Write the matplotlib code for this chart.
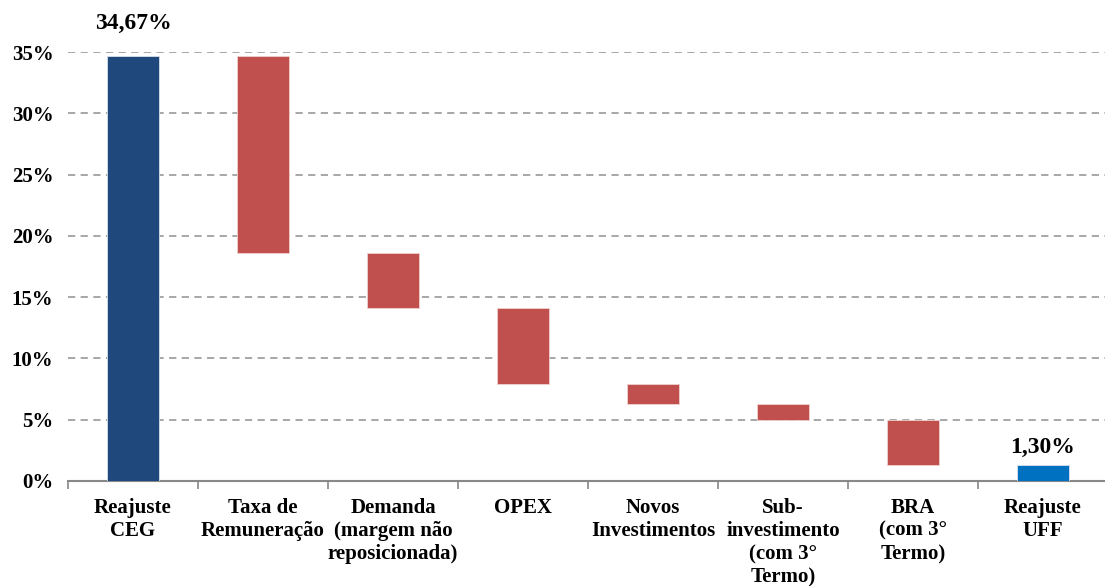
import matplotlib.pyplot as plt

categorias = ['Reajuste\nCEG', 'Taxa de\nRemuneração', 'Demanda\n(margem não\nreposicionada)', 'OPEX',
              'Novos\nInvestimentos', 'Sub-\ninvestimento\n(com 3°\nTermo)', 'BRA\n(com 3°\nTermo)', 'Reajuste\nUFF']
reajuste_ceg = 34.67
variacoes = [-16.05, -4.51, -6.19, -1.65, -1.32, -3.65]
reajuste_uff = 1.30

plt.rcParams['font.family'] = ['Liberation Serif', 'DejaVu Serif']
plt.rcParams['font.weight'] = 'bold'

fig = plt.figure(figsize=(11.05, 5.86), dpi=100)
ax = fig.add_axes([68 / 1105, 1 - 481 / 586, 1040 / 1105, (481 - 52) / 586])

x = list(range(len(categorias)))
largura = 0.4

# barras iniciais e finais
ax.bar(x[0], reajuste_ceg, width=largura, color='#1F497D', edgecolor='#d9e1ec', linewidth=0.6, zorder=3)
ax.bar(x[-1], reajuste_uff, width=largura, color='#0070C0', edgecolor='#d9e1ec', linewidth=0.6, zorder=3)

# barras de variação (cascata)
nivel = reajuste_ceg
for i, d in enumerate(variacoes):
    ax.bar(x[i + 1], d, bottom=nivel, width=largura, color='#C0504D', edgecolor='#f0d0d0', linewidth=0.6, zorder=3)
    nivel += d

ax.text(x[0], reajuste_ceg + 1.8, '34,67%', ha='center', va='bottom', fontsize=17, fontweight='bold', clip_on=False)
ax.text(x[-1], reajuste_uff + 0.6, '1,30%', ha='center', va='bottom', fontsize=17, fontweight='bold')

ax.set_xlim(-0.5, 7.5)
ax.set_ylim(0, 35)
ax.set_yticks(range(0, 36, 5))
ax.set_yticklabels([str(v) + '%' for v in range(0, 36, 5)], fontsize=15, fontweight='bold')
ax.yaxis.grid(True, linestyle=(0, (4, 3)), color='#a0a0a0', linewidth=1.3, zorder=0)

ax.set_xticks([i - 0.5 for i in range(len(categorias) + 1)])
ax.set_xticklabels([])
ax.set_xticks(x, minor=True)
ax.set_xticklabels(categorias, minor=True, fontsize=15, fontweight='bold', linespacing=1.22, va='top')
ax.tick_params(axis='x', which='major', length=6, color='#888888', width=1.2)
ax.tick_params(axis='x', which='minor', length=0, pad=12)
ax.tick_params(axis='y', length=0, pad=10.5)

for s in ['top', 'right', 'left']:
    ax.spines[s].set_visible(False)
ax.spines['bottom'].set_color('#888888')
ax.spines['bottom'].set_linewidth(1.5)

plt.savefig('out.png', dpi=100)
